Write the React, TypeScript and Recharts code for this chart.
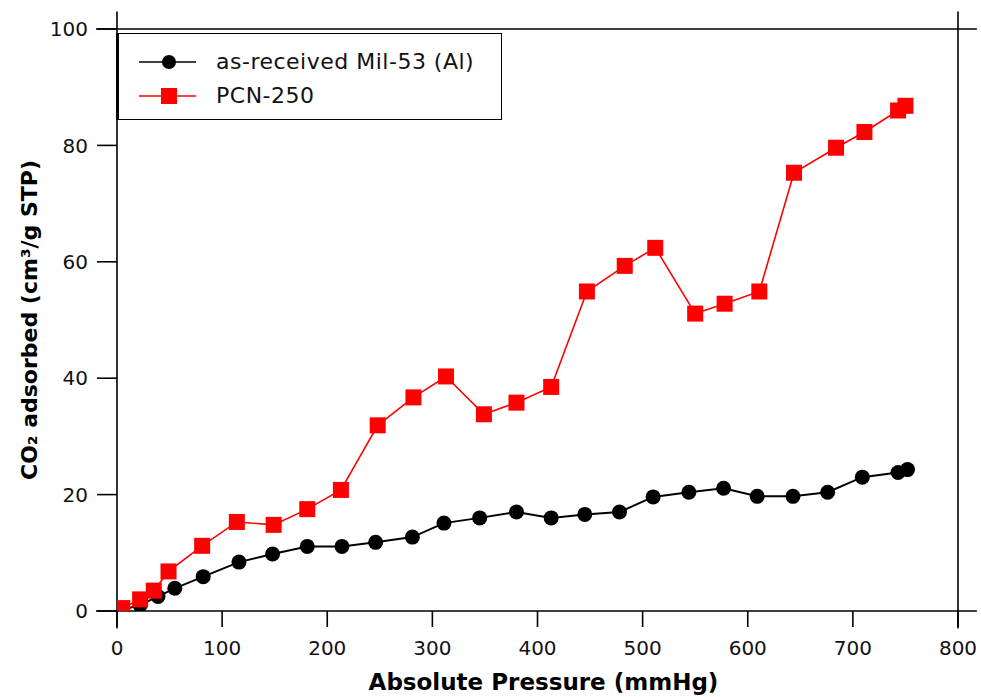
import { LineChart, Line, XAxis, YAxis, ReferenceLine, Legend } from 'recharts';

const FONT = '"DejaVu Sans", Verdana, sans-serif';

// as-received Mil-53 (Al)
const milPressure = [5, 22, 39, 55, 82, 116, 148, 181, 214, 246, 281, 311, 345, 380, 413, 445, 478, 510, 544, 577, 609, 643, 676, 709, 743, 752];
const milAdsorbed = [0.2, 1, 2.5, 3.9, 5.9, 8.4, 9.8, 11.1, 11.1, 11.8, 12.7, 15.1, 16, 17, 16, 16.6, 17, 19.6, 20.4, 21.1, 19.7, 19.7, 20.4, 23, 23.8, 24.3];

// PCN-250
const pcnPressure = [5, 22, 35, 49, 81, 114, 149, 181, 213, 248, 282, 313, 349, 380, 413, 447, 483, 512, 550, 578, 611, 644, 684, 711, 743, 750];
const pcnAdsorbed = [0.5, 2, 3.5, 6.8, 11.2, 15.3, 14.8, 17.5, 20.8, 31.9, 36.7, 40.3, 33.8, 35.8, 38.5, 54.9, 59.3, 62.4, 51.1, 52.8, 54.9, 75.3, 79.6, 82.3, 86, 86.8];

const xTicks = [0, 100, 200, 300, 400, 500, 600, 700, 800];
const yTicks = [0, 20, 40, 60, 80, 100];

// frame lines run a little past the plot, like the original's crosshair corners
const frameX = [-20, 818];
const frameY = [-3, 103];

const milData = milPressure.map((x, i) => ({ x, y: milAdsorbed[i] }));
const pcnData = pcnPressure.map((x, i) => ({ x, y: pcnAdsorbed[i] }));

const renderCircle = (p: any) => (
  <circle key={`m-${p.index}`} cx={p.cx} cy={p.cy} r={7.5} fill="#000" />
);

const renderSquare = (p: any) => (
  <rect key={`p-${p.index}`} x={p.cx - 8} y={p.cy - 8} width={16} height={16} fill="#ff0000" />
);

function LegendBox() {
  const rows = [
    { name: 'as-received Mil-53 (Al)', color: '#000', shape: 'circle', top: 18 },
    { name: 'PCN-250', color: '#ff0000', shape: 'square', top: 52 },
  ];
  return (
    <div
      style={{
        position: 'relative',
        width: 386,
        height: 87,
        boxSizing: 'border-box',
        border: '1.5px solid #000',
        borderLeft: '3px solid #000',
        background: '#fff',
        fontFamily: FONT,
        fontSize: 22,
        letterSpacing: 0.5,
        color: '#111',
      }}
    >
      {rows.map((r) => (
        <div key={r.name} style={{ position: 'absolute', left: 20, top: r.top, height: 20, display: 'flex', alignItems: 'center' }}>
          <svg width={60} height={20}>
            <line x1={0} y1={10} x2={57} y2={10} stroke={r.color} strokeWidth={1.5} />
            {r.shape === 'circle' ? (
              <circle cx={30} cy={10} r={7} fill={r.color} />
            ) : (
              <rect x={22} y={2} width={16} height={16} fill={r.color} />
            )}
          </svg>
          <span style={{ marginLeft: 17, whiteSpace: 'nowrap', lineHeight: '20px' }}>{r.name}</span>
        </div>
      ))}
    </div>
  );
}

export default function App() {
  return (
    <div style={{ position: 'absolute', left: 0, top: 0, background: '#fff' }}>
      <LineChart width={981} height={697} margin={{ top: 29, right: 23, bottom: 0, left: 0 }}>
        <XAxis
          type="number"
          dataKey="x"
          domain={[0, 800]}
          ticks={xTicks}
          allowDataOverflow
          axisLine={false}
          tickSize={16}
          tickMargin={14}
          tickLine={{ stroke: '#000', strokeWidth: 1.6 }}
          tick={{ fill: '#111', fontSize: 20, fontFamily: FONT }}
          height={86}
          label={{
            content: ({ viewBox }: any) => (
              <text
                x={viewBox.x + viewBox.width / 2 + 6}
                y={690}
                textAnchor="middle"
                fontFamily={FONT}
                fontSize={23}
                fontWeight="bold"
                fill="#000"
              >
                Absolute Pressure (mmHg)
              </text>
            ),
          }}
        />
        <YAxis
          type="number"
          dataKey="y"
          domain={[0, 100]}
          ticks={yTicks}
          allowDataOverflow
          axisLine={false}
          width={117}
          tickSize={20}
          tickMargin={9}
          tickLine={{ stroke: '#000', strokeWidth: 1.6 }}
          tick={{ fill: '#111', fontSize: 20, fontFamily: FONT }}
          label={{
            content: ({ viewBox }: any) => {
              const cx = 37;
              const cy = viewBox.y + viewBox.height / 2;
              return (
                <text
                  x={cx}
                  y={cy}
                  transform={`rotate(-90 ${cx} ${cy})`}
                  textAnchor="middle"
                  fontFamily={FONT}
                  fontSize={22}
                  fontWeight="bold"
                  fill="#000"
                >
                  CO₂ adsorbed (cm³/g STP)
                </text>
              );
            },
          }}
        />
        <ReferenceLine segment={[{ x: frameX[0], y: 100 }, { x: frameX[1], y: 100 }]} stroke="#000" strokeWidth={1.6} ifOverflow="visible" />
        <ReferenceLine segment={[{ x: frameX[0], y: 0 }, { x: frameX[1], y: 0 }]} stroke="#000" strokeWidth={1.6} ifOverflow="visible" />
        <ReferenceLine segment={[{ x: 0, y: frameY[0] }, { x: 0, y: frameY[1] }]} stroke="#000" strokeWidth={1.6} ifOverflow="visible" />
        <ReferenceLine segment={[{ x: 800, y: frameY[0] }, { x: 800, y: frameY[1] }]} stroke="#000" strokeWidth={1.6} ifOverflow="visible" />
        <Legend
          layout="vertical"
          align="center"
          verticalAlign="middle"
          content={() => <LegendBox />}
          wrapperStyle={{ left: 116, top: 33, width: 386, height: 87 }}
        />
        <Line
          data={milData}
          dataKey="y"
          name="as-received Mil-53 (Al)"
          stroke="#000"
          strokeWidth={2}
          dot={renderCircle}
          activeDot={false}
          isAnimationActive={false}
        />
        <Line
          data={pcnData}
          dataKey="y"
          name="PCN-250"
          stroke="#ff0000"
          strokeWidth={1.6}
          dot={renderSquare}
          activeDot={false}
          isAnimationActive={false}
        />
      </LineChart>
    </div>
  );
}
